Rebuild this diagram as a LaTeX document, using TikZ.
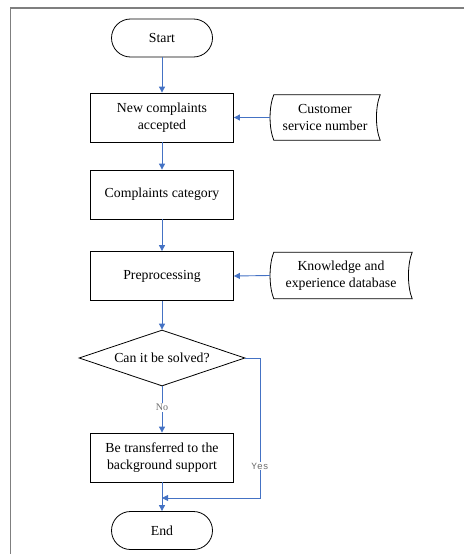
\documentclass[tikz,border=0pt]{standalone}
\usepackage{fontspec}
\setmainfont{Liberation Serif}
\newfontfamily\monof{Liberation Mono}
\usetikzlibrary{shapes.geometric,arrows.meta}
\definecolor{arrblue}{HTML}{4472C4}
\definecolor{framegray}{HTML}{7F7F7F}
\begin{document}
\begin{tikzpicture}[x=1pt,y=-1pt,
  every node/.style={font=\fontsize{13.8}{16.5}\selectfont, align=center},
  term/.style={draw, line width=0.8pt, rounded corners=19pt, minimum width=101pt, minimum height=38pt, inner sep=0pt},
  proc/.style={draw, line width=0.8pt, minimum width=143pt, minimum height=49pt, inner sep=0pt},
  dec/.style={draw, line width=0.8pt, diamond, inner sep=0pt, minimum width=166pt, minimum height=56pt, shape aspect=3},
  sdata/.style={draw=none, inner sep=0pt},
  arr/.style={draw=arrblue, line width=0.9pt, -{Triangle[length=6pt,width=6pt]}},
  lbl/.style={fill=white, text=gray!85!black, inner sep=1pt, font=\fontsize{10}{11}\selectfont}
]
\useasboundingbox (0,0) rectangle (464,554);
\draw[framegray, line width=1.5pt] (464,8) -- (10.5,8) -- (10.5,554);

\node[term] (start) at (162,38) {Start};
\node[proc] (nc) at (162,117.5) {New complaints\\accepted};
\node[proc] (cat) at (162,194.5) {Complaints category};
\node[proc] (pre) at (162,276) {Preprocessing};
\node[dec] (dia) at (162,358) {Can it be solved?};
\node[proc] (tr) at (162,457.5) {Be transferred to the\\background support};
\node[term] (end) at (162,530.5) {End};

\node[sdata, minimum width=110pt, minimum height=45pt] (cs) at (325,117.5) {Customer\\service number};
\node[sdata, minimum width=142pt, minimum height=46pt] (kd) at (341,275.5) {Knowledge and\\experience database};

\foreach \n in {cs,kd}{
  \draw[line width=0.8pt] ([xshift=4]\n.north west) -- (\n.north east)
    .. controls ([shift={(-5,12)}]\n.north east) and ([shift={(-5,-12)}]\n.south east) .. (\n.south east)
    -- ([xshift=4]\n.south west)
    .. controls ([shift={(-1,-12)}]\n.south west) and ([shift={(-1,12)}]\n.north west) .. ([xshift=4]\n.north west) -- cycle;
}

\draw[arr] (start) -- (nc);
\draw[arr] (nc) -- (cat);
\draw[arr] (cat) -- (pre);
\draw[arr] (pre) -- (dia);
\draw[arr] (cs.west) -- (nc.east);
\draw[arr] (kd.west) -- (pre.east);
\draw[arr] (dia) -- node[lbl, pos=0.45] {No} (tr);
\draw[arr] (tr) -- (end);
\coordinate (yc) at (260,498);
\coordinate (j) at (162,498);
\draw[arr] (dia.east) -| (yc) -- (j);
\node[lbl, font=\monof\fontsize{9.5}{11}\selectfont] (yes) at (260,466) {Yes};
\end{tikzpicture}
\end{document}
